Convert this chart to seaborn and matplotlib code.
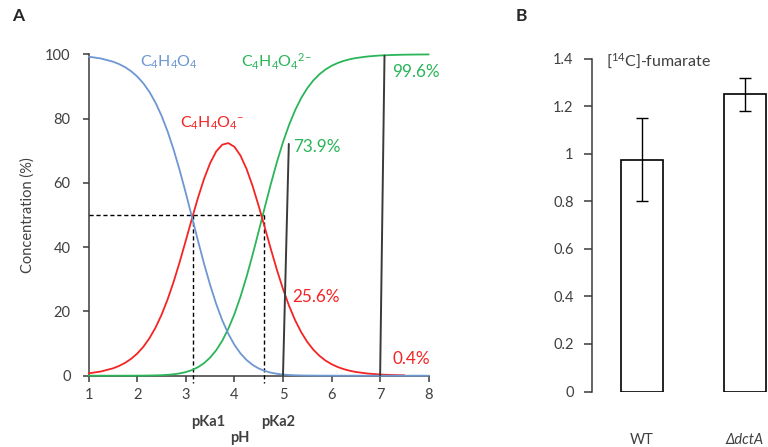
import matplotlib
matplotlib.use("Agg")
import matplotlib.pyplot as plt
import seaborn as sns

# ---------------- data ----------------
ph = [1.0, 1.25, 1.5, 1.625, 1.75, 1.875, 2.0, 2.125, 2.25, 2.375, 2.5, 2.625,
      2.75, 2.875, 3.0, 3.125, 3.25, 3.375, 3.5, 3.625, 3.75, 3.875, 4.0, 4.125,
      4.25, 4.375, 4.5, 4.625, 4.75, 4.875, 5.0, 5.125, 5.25, 5.375, 5.5, 5.625,
      5.75, 5.875, 6.0, 6.125, 6.25, 6.375, 6.5, 6.75, 7.0, 7.25, 7.5, 7.75, 8.0]
acid = [99.26, 98.70, 97.71, 96.96, 95.99, 94.72, 93.08, 90.97, 88.31, 84.97,
        80.88, 75.98, 70.26, 63.81, 56.78, 49.41, 41.99, 34.84, 28.22, 22.32,
        17.24, 13.02, 9.61, 6.93, 4.88, 3.36, 2.25, 1.48, 0.95, 0.59, 0.36,
        0.22, 0.13, 0.08, 0.04, 0.03, 0.01, 0.01, 0, 0, 0, 0, 0, 0, 0, 0, 0, 0, 0]
mono = [0.74, 1.30, 2.29, 3.03, 4.00, 5.27, 6.90, 8.99, 11.64, 14.94, 18.96,
        23.75, 29.29, 35.47, 42.09, 48.84, 55.36, 61.25, 66.15, 69.77, 71.88,
        72.37, 71.22, 68.49, 64.33, 58.99, 52.80, 46.15, 39.41, 32.93, 26.99,
        21.74, 17.26, 13.53, 10.51, 8.10, 6.20, 4.72, 3.58, 2.71, 2.05, 1.54,
        1.16, 0.66, 0.37, 0.21, 0.12]
di = [0, 0, 0, 0, 0.01, 0.01, 0.02, 0.03, 0.06, 0.10, 0.16, 0.27, 0.44, 0.72,
      1.13, 1.75, 2.65, 3.91, 5.63, 7.92, 10.88, 14.61, 19.17, 24.58, 30.79,
      37.65, 44.94, 52.38, 59.65, 66.47, 72.65, 78.04, 82.61, 86.39, 89.45,
      91.88, 93.79, 95.27, 96.42, 97.29, 97.95, 98.46, 98.84, 99.34, 99.63,
      99.79, 99.88, 99.93, 99.96]
pka = [3.15, 4.61]
pct_labels = ["73.9%", "25.6%", "99.6%", "0.4%"]
x_ticks = [1, 2, 3, 4, 5, 6, 7, 8]
y_ticks = [0, 20, 40, 60, 80, 100]

strains = ["WT", "\u0394dctA"]
uptake = [0.975, 1.25]
uptake_err = [0.175, 0.07]
b_ticks = [0, 0.2, 0.4, 0.6, 0.8, 1.0, 1.2, 1.4]
b_ticklabels = ["0", "0.2", "0.4", "0.6", "0.8", "1", "1.2", "1.4"]

# ---------------- style ----------------
sns.set_style("ticks")
plt.rcParams["font.family"] = ["Lato", "DejaVu Sans"]
plt.rcParams["mathtext.fontset"] = "custom"
plt.rcParams["mathtext.rm"] = "Lato"
plt.rcParams["mathtext.it"] = "Lato:italic"
plt.rcParams["mathtext.bf"] = "Lato:bold"

BLUE = "#6d97d1"
RED = "#f52424"
GREEN = "#2ab558"
DARK = "#3a3a3a"
TXT = "#404040"

fig = plt.figure(figsize=(7.68, 4.47), dpi=100)
W, H = 768, 447

def ax_rect(l, r, b, t):
    return [l / W, 1 - b / H, (r - l) / W, (b - t) / H]

# ---------------- panel A ----------------
ax = fig.add_axes(ax_rect(88.7, 428.7, 375.7, 54.3))
lw = 1.3
sns.lineplot(x=ph, y=di, ax=ax, color=GREEN, lw=lw, clip_on=False, zorder=4)
sns.lineplot(x=ph[:len(mono)], y=mono, ax=ax, color=RED, lw=lw, clip_on=False, zorder=4)
sns.lineplot(x=ph, y=acid, ax=ax, color=BLUE, lw=lw, clip_on=False, zorder=5)

ax.set_xlim(1, 8)
ax.set_ylim(0, 100)
ax.set_xticks(x_ticks)
ax.set_yticks(y_ticks)
sns.despine(ax=ax)
for s in ("left", "bottom"):
    ax.spines[s].set_color(DARK)
    ax.spines[s].set_linewidth(1.1)
ax.tick_params(axis="y", length=4.5, width=1.1, color=DARK, pad=8.5,
               labelsize=10.5, labelcolor=TXT)
ax.tick_params(axis="x", length=4.5, width=1.1, color=DARK, pad=4,
               labelsize=10.5, labelcolor=TXT)

# dashed pKa guides
ax.plot([1, pka[1]], [50, 50], color="black", lw=1.0, ls=(0, (3, 2)), zorder=3)
for p in pka:
    ax.plot([p, p], [50, -2.2], color="black", lw=1.0, ls=(0, (3, 2)),
            clip_on=False, zorder=3)

# solid annotation lines
ax.plot([5.0, 5.12], [0, 72.1], color=DARK, lw=1.4, zorder=6)
ax.plot([7.0, 7.09], [0, 99.6], color=DARK, lw=1.4, zorder=6)

# species labels
ax.text(2.65, 97.6, r"C$_\mathregular{4}$H$_\mathregular{4}$O$_\mathregular{4}$",
        color=BLUE, fontsize=11.5, ha="center", va="center")
ax.text(3.54, 78.6, r"C$_\mathregular{4}$H$_\mathregular{4}$O$_\mathregular{4}{}^\mathregular{{-}}$",
        color=RED, fontsize=11.5, ha="center", va="center")
ax.text(4.14, 97.6, r"C$_\mathregular{4}$H$_\mathregular{4}$O$_\mathregular{4}{}^\mathregular{2{-}}$",
        color=GREEN, fontsize=11.5, ha="left", va="center")

# percentage labels
ax.text(5.2, 71.3, pct_labels[0], color=GREEN, fontsize=12.3, ha="left", va="center")
ax.text(5.2, 24.4, pct_labels[1], color=RED, fontsize=12.3, ha="left", va="center")
ax.text(7.25, 94.5, pct_labels[2], color=GREEN, fontsize=12.3, ha="left", va="center")
ax.text(7.25, 5.2, pct_labels[3], color=RED, fontsize=12.3, ha="left", va="center")

# pKa labels and axis labels
ax.text(pka[0] - 0.05, -14.3, "pKa1", color=TXT, fontsize=10.5, fontweight="bold",
        ha="left", va="center", clip_on=False)
ax.text(pka[1] - 0.05, -14.3, "pKa2", color=TXT, fontsize=10.5, fontweight="bold",
        ha="left", va="center", clip_on=False)
ax.set_xlabel("pH", fontsize=10.5, fontweight="bold", color=TXT)
ax.xaxis.set_label_coords(0.445, -0.172)
ax.set_ylabel("Concentration (%)", fontsize=10.5, color=TXT)
ax.yaxis.set_label_coords(-0.158, 0.5)

# ---------------- panel B ----------------
ax2 = fig.add_axes(ax_rect(591.7, 768, 391.5, 58.5))
sns.barplot(x=strains, y=uptake, ax=ax2, color="white", edgecolor="black",
            linewidth=1.2, width=0.405, errorbar=None, saturation=1)
ax2.errorbar(x=[0, 1], y=uptake, yerr=uptake_err, fmt="none", ecolor="black",
             elinewidth=1.0, capsize=4.2, capthick=1.0, zorder=5)
ax2.set_xlim(-0.485, 1.225)
ax2.set_ylim(0, 1.4)
ax2.set_yticks(b_ticks)
ax2.set_yticklabels(b_ticklabels)
sns.despine(ax=ax2, bottom=True)
ax2.spines["left"].set_color(DARK)
ax2.spines["left"].set_linewidth(1.1)
ax2.tick_params(axis="y", length=6, width=1.1, color=DARK, pad=7,
                labelsize=10.5, labelcolor=TXT)
ax2.tick_params(axis="x", length=0, pad=30, labelsize=10.5, labelcolor=TXT)
ax2.get_xticklabels()[1].set_fontstyle("italic")
ax2.set_xlabel("")
ax2.set_ylabel("")

fig.text(606 / W, 1 - 61.5 / H, r"[$^\mathregular{14}$C]-fumarate", fontsize=11.5,
         color=TXT, ha="left", va="center")

fig.text(12 / W, 1 - 16 / H, "A", fontsize=12.5, fontweight="bold", ha="left", va="center")
fig.text(516 / W, 1 - 16 / H, "B", fontsize=12.5, fontweight="bold", ha="left", va="center")

fig.savefig("out.png", dpi=100)
